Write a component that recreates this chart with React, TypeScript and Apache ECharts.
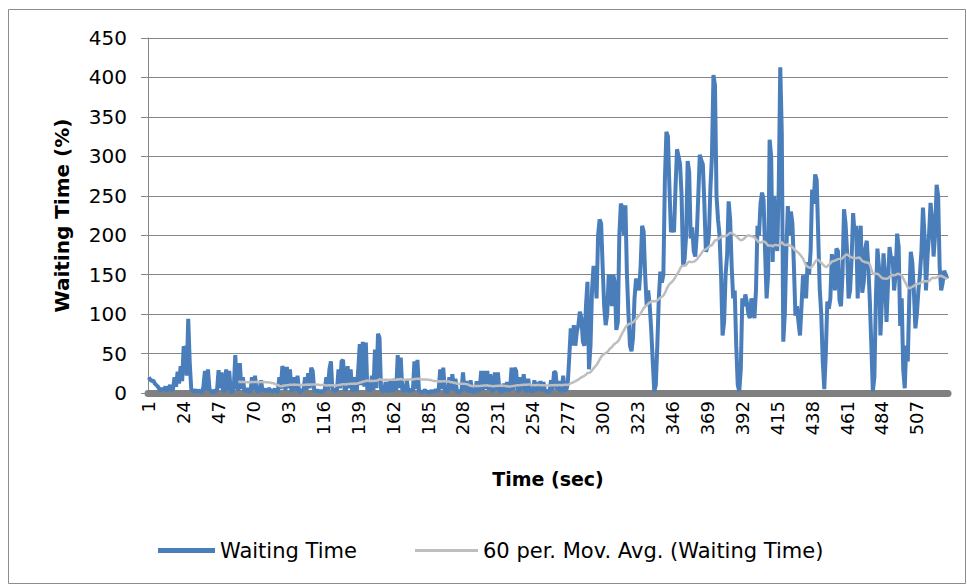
import React, { useEffect, useRef } from "react";
import * as echarts from "echarts";

const waitingTime: number[] = [
  20, 17, 15, 16, 12, 10, 8, 5, 3, 6,
  4, 8, 2, 6, 10, 3, 5, 20, 8, 27,
  12, 34, 15, 59, 56, 22, 94, 38, 5, 3,
  2, 4, 1, 3, 2, 0, 8, 28, 3, 30,
  5, 2, 1, 3, 2, 4, 29, 6, 26, 2,
  3, 30, 4, 28, 2, 1, 6, 48, 10, 3,
  38, 5, 20, 2, 3, 6, 2, 1, 20, 4,
  22, 3, 1, 4, 16, 2, 5, 3, 2, 6,
  4, 1, 3, 5, 2, 1, 20, 5, 34, 28,
  3, 33, 6, 30, 2, 4, 20, 3, 22, 2,
  1, 3, 5, 20, 4, 25, 6, 32, 28, 3,
  2, 4, 1, 3, 1, 2, 5, 20, 4, 30,
  40, 3, 5, 2, 4, 30, 6, 40, 42, 3,
  5, 34, 6, 30, 2, 4, 20, 2, 30, 62,
  10, 65, 8, 64, 3, 5, 2, 22, 4, 55,
  6, 75, 70, 5, 3, 2, 14, 3, 2, 16,
  4, 2, 18, 3, 48, 6, 45, 5, 2, 4,
  16, 2, 3, 4, 2, 40, 5, 42, 3, 2,
  1, 2, 4, 1, 2, 0, 3, 1, 2, 4,
  2, 4, 30, 5, 32, 3, 2, 1, 20, 4,
  24, 3, 18, 2, 1, 3, 2, 26, 4, 15,
  2, 3, 16, 1, 2, 1, 15, 2, 4, 28,
  3, 28, 5, 28, 4, 24, 3, 2, 26, 4,
  26, 3, 2, 1, 12, 2, 14, 3, 4, 32,
  4, 32, 28, 3, 2, 20, 4, 24, 3, 2,
  18, 2, 3, 1, 16, 2, 14, 3, 15, 2,
  14, 2, 3, 1, 2, 16, 3, 27, 26, 4,
  15, 3, 2, 22, 4, 3, 12, 45, 82, 60,
  86, 60, 78, 86, 103, 95, 65, 60, 110, 141,
  30, 60, 130, 161, 150, 120, 200, 220, 215, 160,
  110, 86, 100, 150, 145, 110, 150, 140, 80, 90,
  200, 240, 235, 200, 238, 150, 100, 60, 53, 70,
  120, 145, 140, 130, 160, 212, 205, 150, 111, 130,
  111, 80, 40, 2, 10, 60, 120, 154, 140, 150,
  270, 331, 325, 260, 204, 210, 204, 260, 309, 300,
  290, 250, 161, 170, 200, 294, 280, 196, 210, 180,
  173, 200, 250, 302, 295, 290, 240, 179, 185, 200,
  260, 300, 403, 390, 250, 220, 200, 150, 73, 90,
  150, 175, 243, 220, 160, 120, 130, 60, 10, 2,
  30, 120, 110, 125, 115, 100, 95, 120, 105, 95,
  130, 212, 200, 240, 254, 245, 180, 120, 150, 321,
  300, 166, 250, 200, 180, 260, 413, 330, 65, 100,
  180, 237, 200, 230, 215, 160, 98, 110, 90, 73,
  110, 149, 140, 120, 166, 150, 180, 258, 240, 277,
  270, 200, 132, 100, 40, 5, 50, 116, 107, 120,
  176, 160, 130, 183, 180, 118, 110, 150, 233, 215,
  180, 120, 130, 170, 228, 200, 212, 120, 190, 212,
  127, 140, 183, 193, 160, 117, 60, 2, 20, 120,
  183, 160, 73, 120, 177, 150, 90, 140, 185, 170,
  173, 130, 150, 202, 185, 85, 120, 30, 6, 60,
  40, 120, 179, 165, 130, 82, 100, 130, 150, 180,
  235, 200, 130, 173, 200, 241, 220, 173, 200, 264,
  250, 160, 130, 140, 155, 150, 145,
];

const categories: string[] = waitingTime.map((_, i) => String(i + 1));
const yTicks: number[] = [0, 50, 100, 150, 200, 250, 300, 350, 400, 450];
const maPeriod = 60;
const seriesNames: string[] = ["Waiting Time", "60 per. Mov. Avg. (Waiting Time)"];

// Trendline as defined by its legend: 60-period moving average of the series
const movingAvg: (number | null)[] = waitingTime.map((_, i) => {
  if (i < maPeriod - 1) return null;
  let s = 0;
  for (let k = i - maPeriod + 1; k <= i; k++) s += waitingTime[k];
  return s / maPeriod;
});

const BLUE = "#4A7EBB";
const GRAY = "#BEBEBE";

export default function App() {
  const ref = useRef<HTMLDivElement>(null);
  useEffect(() => {
    if (!ref.current) return;
    const chart = echarts.init(ref.current, undefined, { renderer: "svg" });
    const font = "DejaVu Sans";
    const legendText = { fontFamily: font, fontSize: 21, color: "#000" };
    chart.setOption({
      animation: false,
      backgroundColor: "#ffffff",
      graphic: [
        {
          type: "rect",
          shape: { x: 8.5, y: 9.5, width: 957, height: 574 },
          style: { fill: "none", stroke: "#8c8c8c", lineWidth: 1 },
          silent: true,
        },
      ],
      grid: { left: 148, right: 19, top: 38, bottom: 195, containLabel: false },
      legend: [
        {
          left: 158,
          top: 540,
          padding: 0,
          icon: "rect",
          itemWidth: 57,
          itemHeight: 5,
          textStyle: legendText,
          data: [seriesNames[0]],
        },
        {
          left: 415,
          top: 540,
          padding: 0,
          icon: "rect",
          itemWidth: 63,
          itemHeight: 3,
          textStyle: legendText,
          data: [seriesNames[1]],
        },
      ],
      xAxis: {
        type: "category",
        data: categories,
        boundaryGap: true,
        name: "Time (sec)",
        nameLocation: "middle",
        nameGap: 76,
        nameTextStyle: { fontFamily: font, fontSize: 19, fontWeight: "bold", color: "#000", verticalAlign: "top" },
        axisLine: { show: true, lineStyle: { color: "#808080", width: 7 } },
        axisTick: { show: false },
        axisLabel: {
          interval: 22,
          rotate: 90,
          fontFamily: font,
          fontSize: 18,
          color: "#000",
          margin: 8,
        },
        splitLine: { show: false },
      },
      yAxis: {
        type: "value",
        min: 0,
        max: 450,
        interval: 50,
        name: "Waiting Time (%)",
        nameLocation: "middle",
        nameGap: 76,
        nameRotate: 90,
        nameTextStyle: { fontFamily: font, fontSize: 20, fontWeight: "bold", color: "#000" },
        axisLine: { show: true, lineStyle: { color: "#868686", width: 1 } },
        axisTick: { show: true, length: 7, lineStyle: { color: "#868686" } },
        axisLabel: {
          fontFamily: font,
          fontSize: 20,
          color: "#000",
          margin: 21,
          customValues: yTicks,
        },
        splitLine: { show: true, lineStyle: { color: "#868686", width: 1 } },
      },
      series: [
        {
          name: seriesNames[0],
          type: "line",
          data: waitingTime,
          symbol: "none",
          lineStyle: { color: BLUE, width: 4 },
          itemStyle: { color: BLUE },
          z: 2,
        },
        {
          name: seriesNames[1],
          type: "line",
          data: movingAvg,
          symbol: "none",
          connectNulls: false,
          lineStyle: { color: GRAY, width: 2.5 },
          itemStyle: { color: GRAY },
          z: 3,
        },
      ],
    });
    return () => chart.dispose();
  }, []);
  return (
    <div
      ref={ref}
      style={{ position: "absolute", left: 0, top: 0, width: 967, height: 588 }}
    />
  );
}
